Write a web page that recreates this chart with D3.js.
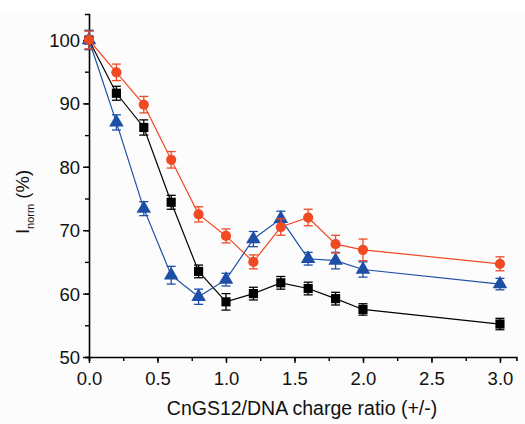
<!DOCTYPE html>
<html><head><meta charset="utf-8">
<script src="https://cdn.jsdelivr.net/npm/d3@7"></script>
<style>body{margin:0;background:#fff;}svg{display:block;} text{font-family:"Liberation Sans",Arial,sans-serif;}</style>
</head><body>
<svg id="c" width="525" height="424"></svg>
<script>
const xValues = [0, 0.2, 0.4, 0.6, 0.8, 1.0, 1.2, 1.4, 1.6, 1.8, 2.0, 3.0];
const blackVals = [100, 91.6, 86.2, 74.4, 63.5, 58.7, 60.0, 61.7, 60.8, 59.2, 57.5, 55.2];
const blackErr  = [1.5, 1.1, 1.2, 1.1, 1.0, 1.3, 1.0, 1.0, 1.0, 1.0, 0.9, 0.9];
const redVals   = [100, 94.9, 89.8, 81.1, 72.5, 69.1, 65.0, 70.5, 72.0, 67.8, 66.9, 64.7];
const redErr    = [1.4, 1.3, 1.3, 1.3, 1.2, 1.1, 1.1, 1.3, 1.3, 1.4, 1.7, 1.1];
const blueVals  = [100, 87.0, 73.4, 62.9, 59.5, 62.2, 68.6, 71.8, 65.5, 65.2, 63.8, 61.5];
const blueErr   = [1.5, 1.2, 1.1, 1.4, 1.2, 1.0, 1.2, 1.2, 1.0, 1.3, 1.2, 0.9];
const xTicks = [0, 0.5, 1.0, 1.5, 2.0, 2.5, 3.0];
const yTicks = [50, 60, 70, 80, 90, 100];

const svg = d3.select("#c");
svg.append("rect").attr("x",0).attr("y",14).attr("width",525).attr("height",410).attr("fill","#fcfcfc");

const x = d3.scaleLinear().domain([0, 3.12]).range([89, 516.4]);
const y = d3.scaleLinear().domain([50, 104.1]).range([357, 14]);

const gx = svg.append("g").attr("transform", `translate(0,${y(50)})`);
gx.call(d3.axisBottom(x).tickValues(d3.range(0, 3.01, 0.25)).tickSize(4).tickFormat(""));
const gxm = gx.append("g").call(d3.axisBottom(x).tickValues(xTicks).tickSize(6).tickFormat(d3.format(".1f")));
gxm.select(".domain").remove();
const gy = svg.append("g").attr("transform", `translate(${x(0)},0)`);
gy.call(d3.axisLeft(y).tickValues(d3.range(50, 101, 5)).tickSize(4).tickFormat(""));
const gym = gy.append("g").call(d3.axisLeft(y).tickValues(yTicks).tickSize(6).tickFormat(d3.format("d")));
gym.select(".domain").remove();
svg.selectAll(".domain").attr("stroke","#000").attr("stroke-width",1.6);
svg.selectAll(".tick line").attr("stroke","#000").attr("stroke-width",1.4);
gxm.selectAll("text").style("font-size","18.5px").style("font-family","'Liberation Sans', Arial, sans-serif").attr("fill","#111").attr("y",10).attr("dy","0.95em");
gym.selectAll("text").style("font-size","18.5px").style("font-family","'Liberation Sans', Arial, sans-serif").attr("fill","#111").attr("x",-9).attr("dy","0.35em");

svg.append("text").attr("x", 302).attr("y", 415).attr("text-anchor","middle")
  .style("font-size","19.5px").attr("fill","#111").text("CnGS12/DNA charge ratio (+/-)");
const yl = svg.append("text").attr("transform","translate(29,202) rotate(-90)").attr("text-anchor","middle")
  .style("font-size","18.5px").attr("fill","#111");
yl.append("tspan").text("I");
yl.append("tspan").style("font-size","11px").attr("dy",5).text("norm");
yl.append("tspan").attr("dy",-5).text(" (%)");

function series(vals, errs, color, shape) {
  const data = xValues.map((d,i)=>({x:d, y:vals[i], e:errs[i]}));
  const g = svg.append("g");
  g.append("path").datum(data).attr("fill","none").attr("stroke",color).attr("stroke-width",1.2)
    .attr("d", d3.line().x(d=>x(d.x)).y(d=>y(d.y)));
  const eb = g.selectAll(".eb").data(data).join("g").attr("stroke",color).attr("stroke-width",1.3);
  eb.append("line").attr("x1",d=>x(d.x)).attr("x2",d=>x(d.x)).attr("y1",d=>y(d.y-d.e)).attr("y2",d=>y(d.y+d.e));
  eb.append("line").attr("x1",d=>x(d.x)-4.5).attr("x2",d=>x(d.x)+4.5).attr("y1",d=>y(d.y-d.e)).attr("y2",d=>y(d.y-d.e));
  eb.append("line").attr("x1",d=>x(d.x)-4.5).attr("x2",d=>x(d.x)+4.5).attr("y1",d=>y(d.y+d.e)).attr("y2",d=>y(d.y+d.e));
  const sym = d3.symbol().type(shape).size(shape===d3.symbolTriangle ? 92 : (shape===d3.symbolCircle ? 82 : 84));
  g.selectAll(".m").data(data).join("path").attr("fill",color)
    .attr("transform",d=>`translate(${x(d.x)},${y(d.y)})`).attr("d", sym);
}
series(blackVals, blackErr, "#000000", d3.symbolSquare);
series(blueVals, blueErr, "#1d4fa6", d3.symbolTriangle);
series(redVals, redErr, "#f04a24", d3.symbolCircle);
</script>
</body></html>
